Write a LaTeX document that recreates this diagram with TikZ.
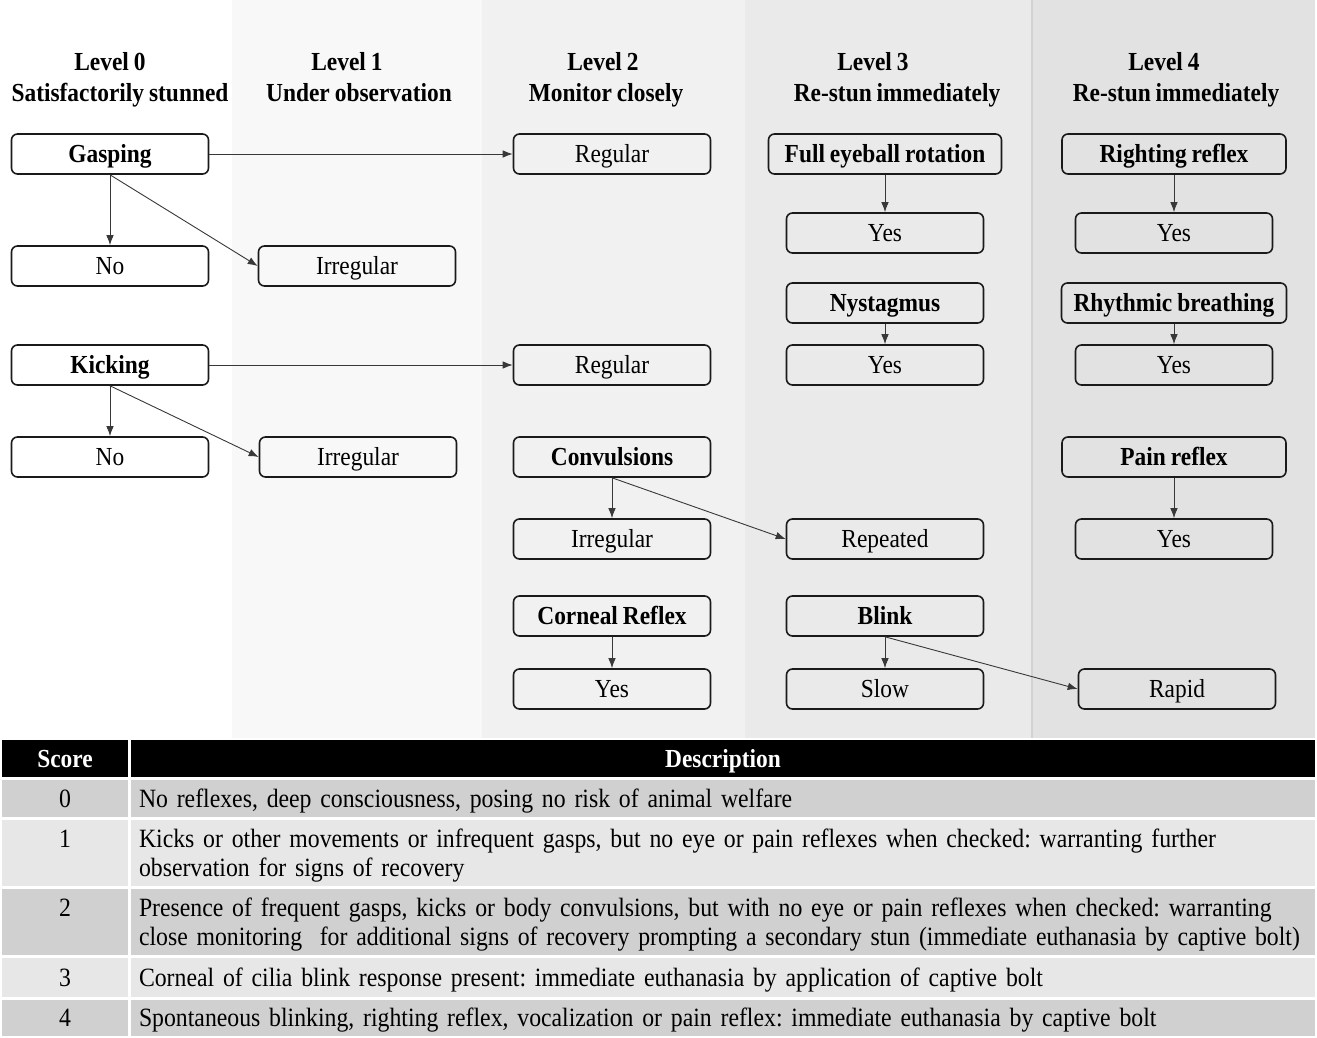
\documentclass[tikz,border=0pt]{standalone}
\usepackage{fontspec}
\setmainfont{Liberation Serif}[FakeStretch=0.9, WordSpace=0.85]
\usetikzlibrary{positioning,arrows.meta}
\definecolor{ink}{HTML}{1A1A1A}
\definecolor{wire}{HTML}{383838}
\definecolor{laneOne}{HTML}{F8F8F8}
\definecolor{laneTwo}{HTML}{F1F1F1}
\definecolor{laneThree}{HTML}{EAEAEA}
\definecolor{laneFour}{HTML}{E2E2E2}
\definecolor{laneEdge}{HTML}{D2D2D2}
\definecolor{rowDark}{HTML}{D0D0D0}
\definecolor{rowLight}{HTML}{E7E7E7}
\frenchspacing

\begin{document}
\begin{tikzpicture}[
  x=1pt, y=-1pt,
  oneLine/.style={text height=20.8pt, text depth=3.6pt},
  twoLines/.style={text height=20.8pt, text depth=32pt},
  levelHead/.style={
    font=\fontsize{26}{28}\selectfont\bfseries,
    inner sep=0pt, text=black, oneLine
  },
  sign/.style={
    rectangle, rounded corners=6pt,
    draw=ink, line width=1.6pt,
    minimum width=197pt, minimum height=40pt,
    inner sep=0pt, oneLine,
    font=\fontsize{26}{28}\selectfont\bfseries,
    text=black
  },
  answer/.style={
    sign,
    font=\fontsize{26}{28}\selectfont
  },
  flow/.style={
    -{Latex[length=10pt,width=7.5pt]},
    line width=0.9pt,
    draw=wire
  },
  cell/.style={
    rectangle, anchor=north west,
    inner sep=0pt, outer sep=0pt,
    font=\fontsize{26.4}{29}\selectfont
  },
  headCell/.style={
    cell, fill=black, text=white, oneLine,
    minimum height=37pt,
    font=\fontsize{26}{29}\selectfont\bfseries
  },
  scoreCell/.style={cell, oneLine, minimum width=126pt},
  descCell/.style={
    cell, minimum width=1184pt,
    text width=1168pt, align=left,
    inner xsep=8pt
  }
]

% Force the canvas to the reference size
\useasboundingbox (0,0) rectangle (1317,1038);

% Lanes behind the levels
\fill[laneOne] (232,0) rectangle (482,738);
\fill[laneTwo] (482,0) rectangle (745,738);
\fill[laneThree] (745,0) rectangle (1032,738);
\fill[laneFour] (1032,0) rectangle (1315,738);
\draw[laneEdge, line width=1.5pt] (1032,0) -- (1032,738);

% Level headings
\node[levelHead] (lev0) at (110,62) {Level 0};
\node[levelHead] (sub0) at (120,93) {Satisfactorily stunned};
\node[levelHead] (lev1) at (347,62) {Level 1};
\node[levelHead] (sub1) at (359,93) {Under observation};
\node[levelHead] (lev2) at (603,62) {Level 2};
\node[levelHead] (sub2) at (606,93) {Monitor closely};
\node[levelHead] (lev3) at (873,62) {Level 3};
\node[levelHead] (sub3) at (897,93) {Re-stun immediately};
\node[levelHead] (lev4) at (1164,62) {Level 4};
\node[levelHead] (sub4) at (1176,93) {Re-stun immediately};

% Level 0
\node[sign] (gasp) at (110,154) {Gasping};
\node[answer] (gaspNo) at (110,266) {No};
\node[sign] (kick) at (110,365) {Kicking};
\node[answer] (kickNo) at (110,457) {No};

% Level 1
\node[answer] (gaspIrr) at (357,266) {Irregular};
\node[answer] (kickIrr) at (358,457) {Irregular};

% Level 2
\node[answer] (gaspReg) at (612,154) {Regular};
\node[answer] (kickReg) at (612,365) {Regular};
\node[sign] (conv) at (612,457) {Convulsions};
\node[answer] (convIrr) at (612,539) {Irregular};
\node[sign] (cornea) at (612,616) {Corneal Reflex};
\node[answer] (corneaYes) at (612,689) {Yes};

% Level 3
\node[sign, minimum width=233pt] (eyeball) at (885,154) {Full eyeball rotation};
\node[answer] (eyeballYes) at (885,233) {Yes};
\node[sign] (nyst) at (885,303) {Nystagmus};
\node[answer] (nystYes) at (885,365) {Yes};
\node[answer] (convRep) at (885,539) {Repeated};
\node[sign] (blink) at (885,616) {Blink};
\node[answer] (blinkSlow) at (885,689) {Slow};

% Level 4
\node[sign, minimum width=224pt] (righting) at (1174,154) {Righting reflex};
\node[answer] (rightingYes) at (1174,233) {Yes};
\node[sign, minimum width=225pt] (breath) at (1174,303) {Rhythmic breathing};
\node[answer] (breathYes) at (1174,365) {Yes};
\node[sign, minimum width=224pt] (pain) at (1174,457) {Pain reflex};
\node[answer] (painYes) at (1174,539) {Yes};
\node[answer] (blinkRapid) at (1177,689) {Rapid};

% Connectors
\draw[flow] (gasp.east) -- (gaspReg.west);
\draw[flow] (gasp.south) -- (gaspNo.north);
\draw[flow] (gasp.south) -- (gaspIrr.west);
\draw[flow] (kick.east) -- (kickReg.west);
\draw[flow] (kick.south) -- (kickNo.north);
\draw[flow] (kick.south) -- (kickIrr.west);
\draw[flow] (conv.south) -- (convIrr.north);
\draw[flow] (conv.south) -- (convRep.west);
\draw[flow] (cornea.south) -- (corneaYes.north);
\draw[flow] (eyeball.south) -- (eyeballYes.north);
\draw[flow] (nyst.south) -- (nystYes.north);
\draw[flow] (blink.south) -- (blinkSlow.north);
\draw[flow] (blink.south) -- (blinkRapid.west);
\draw[flow] (righting.south) -- (rightingYes.north);
\draw[flow] (breath.south) -- (breathYes.north);
\draw[flow] (pain.south) -- (painYes.north);

% Score table
\node[headCell, minimum width=126pt] (hScore) at (2,740) {Score};
\node[headCell, minimum width=1184pt] (hDesc) at (131,740) {Description};

\node[scoreCell, fill=rowDark, minimum height=37pt] (sc0) at (2,780) {0};
\node[descCell, oneLine, fill=rowDark, minimum height=37pt] (de0) at (131,780)
  {No reflexes, deep consciousness, posing no risk of animal welfare};

\node[scoreCell, twoLines, fill=rowLight, minimum height=66pt] (sc1) at (2,820) {1};
\node[descCell, twoLines, fill=rowLight, minimum height=66pt] (de1) at (131,820)
  {Kicks or other movements or infrequent gasps, but no eye or pain reflexes when checked: warranting further\\
   observation for signs of recovery};

\node[scoreCell, twoLines, fill=rowDark, minimum height=66pt] (sc2) at (2,889) {2};
\node[descCell, twoLines, fill=rowDark, minimum height=66pt] (de2) at (131,889)
  {Presence of frequent gasps, kicks or body convulsions, but with no eye or pain reflexes when checked: warranting\\
   close monitoring\ \ for additional signs of recovery prompting a secondary stun (immediate euthanasia by captive bolt)};

\node[scoreCell, fill=rowLight, minimum height=39pt] (sc3) at (2,958) {3};
\node[descCell, oneLine, fill=rowLight, minimum height=39pt] (de3) at (131,958)
  {Corneal of cilia blink response present: immediate euthanasia by application of captive bolt};

\node[scoreCell, fill=rowDark, minimum height=36pt] (sc4) at (2,1000) {4};
\node[descCell, oneLine, fill=rowDark, minimum height=36pt] (de4) at (131,1000)
  {Spontaneous blinking, righting reflex, vocalization or pain reflex: immediate euthanasia by captive bolt};

\end{tikzpicture}
\end{document}
